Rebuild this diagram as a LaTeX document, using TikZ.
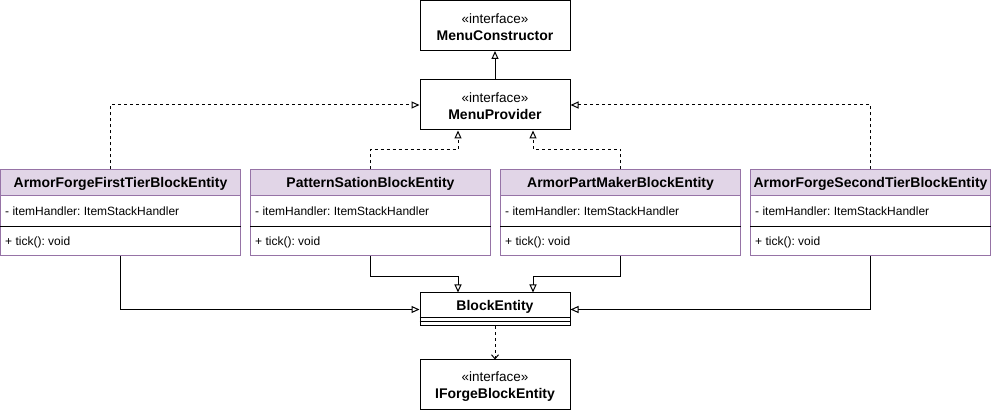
\documentclass[tikz,border=0pt]{standalone}
\usepackage{fontspec}
\setmainfont{Liberation Sans}
\frenchspacing
\usetikzlibrary{arrows.meta,calc}
\definecolor{hdrfill}{HTML}{E1D5E7}
\definecolor{hdrdraw}{HTML}{9673A6}
\tikzset{
  ibox/.style={draw=black, line width=1pt, fill=white, minimum width=150pt, minimum height=50pt, inner sep=0pt},
  itext/.style={inner sep=0pt, align=center, font=\fontsize{13.5pt}{17pt}\selectfont},
  clsbox/.style={draw=hdrdraw, line width=1pt, minimum width=240pt, minimum height=86pt, inner sep=0pt},
  clshdr/.style={draw=hdrdraw, fill=hdrfill, line width=1pt, minimum width=240pt, minimum height=26pt, inner sep=0pt},
  hdrtext/.style={inner sep=0pt, font=\fontsize{14pt}{16pt}\selectfont\bfseries},
  member/.style={anchor=west, inner sep=0pt, font=\fontsize{12pt}{14pt}\selectfont},
  sepline/.style={draw=black, line width=1pt},
  realize/.style={draw=black, line width=1pt, dash pattern=on 3pt off 3pt, -{Triangle[open, length=8pt, width=7pt]}},
  inherit/.style={draw=black, line width=1pt, -{Triangle[open, length=8pt, width=7pt]}},
  depend/.style={draw=black, line width=1pt, dash pattern=on 3pt off 3pt, -{Straight Barb[length=4pt, width=7pt]}},
}
\newcommand{\ifacelabel}[1]{«interface»\\\textbf{\fontsize{14pt}{17pt}\selectfont #1}}
\begin{document}
\begin{tikzpicture}[x=1pt, y=-1pt]
\useasboundingbox (0,0) rectangle (991,411);

% interfaces
\node[ibox] (mc) at (495,25.5) {};
\node[itext] (mct) at ($(mc)+(0,1.5)$) {\ifacelabel{MenuConstructor}};
\node[ibox] (mp) at (495,105) {};
\node[itext] (mpt) at ($(mp)+(0,1.5)$) {\ifacelabel{MenuProvider}};
\node[ibox] (ifb) at (495,385) {};
\node[itext] (ifbt) at ($(ifb)+(0,1.5)$) {\ifacelabel{IForgeBlockEntity}};

% BlockEntity
\node[draw=black, line width=1pt, fill=white, minimum width=150pt, minimum height=33pt, inner sep=0pt] (be) at (495,309.5) {};
\node[hdrtext] (bet) at (495,306.5) {BlockEntity};
\draw[sepline] (be.west |- 0,318) -- (be.east |- 0,318);
\draw[sepline] (be.west |- 0,322) -- (be.east |- 0,322);

% class boxes
\foreach \n/\cx/\t in {1/120.5/ArmorForgeFirstTierBlockEntity, 2/370.5/PatternSationBlockEntity, 3/620.5/ArmorPartMakerBlockEntity, 4/870.5/ArmorForgeSecondTierBlockEntity}{
  \node[clshdr] (h\n) at (\cx,183) {};
  \node[hdrtext] (ht\n) at ($(h\n)+(0,1)$) {\t};
  \node[clsbox] (c\n) at (\cx,213) {};
  \node[member] (a\n) at ($(c\n.west)+(5,-2)$) {- itemHandler: ItemStackHandler};
  \draw[sepline] (c\n.west |- 0,227) -- (c\n.east |- 0,227);
  \node[member] (m\n) at ($(c\n.west |- 0,242)+(5,0)$) {+ tick(): void};
}

% connectors
\draw[inherit] (mp.north) -- (mc.south);
\draw[realize] ([xshift=-10pt]c1.north) |- (mp.west);
\draw[realize] (c4.north) |- (mp.east);
\draw[realize] (c2.north) -- ++(0,-20) -| ([xshift=-37pt]mp.south);
\draw[realize] (c3.north) -- ++(0,-20) -| ([xshift=38pt]mp.south);

\draw[inherit] (c1.south) |- (be.west);
\draw[inherit] (c4.south) |- (be.east);
\draw[inherit] (c2.south) -- ++(0,20) -| ([xshift=-37pt]be.north);
\draw[inherit] (c3.south) -- ++(0,20) -| ([xshift=38pt]be.north);

\draw[depend] (be.south) -- (ifb.north);
\end{tikzpicture}
\end{document}
